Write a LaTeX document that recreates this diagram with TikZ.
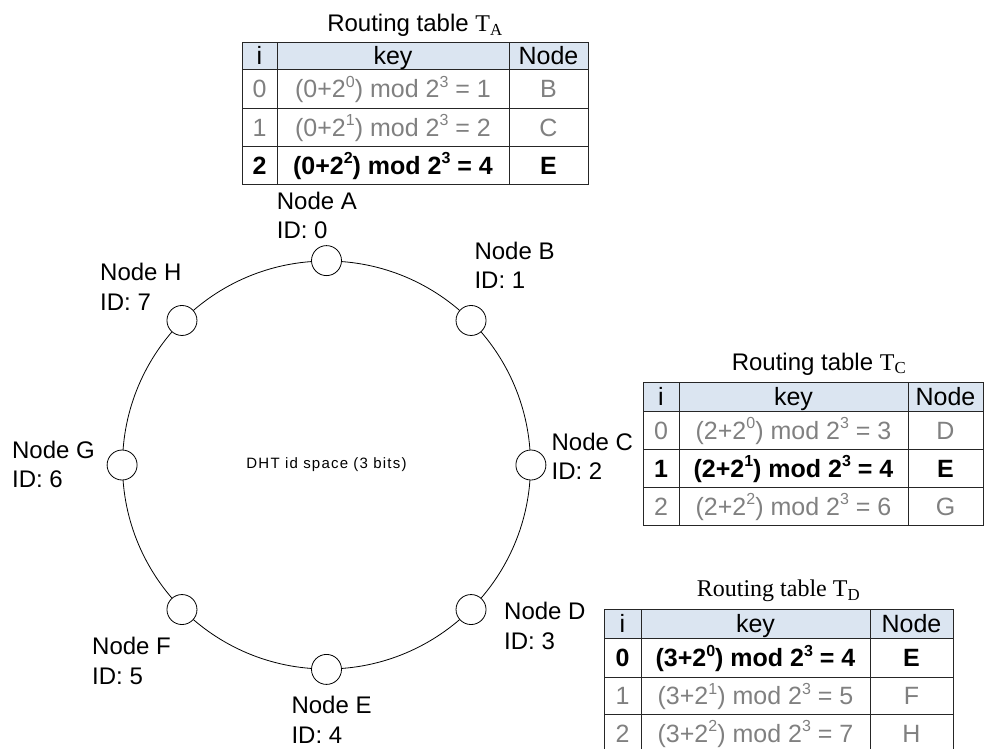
\documentclass[tikz,border=0pt]{standalone}
\usepackage{fontspec}
\setmainfont{Liberation Sans}
\newfontfamily\tnr{Liberation Serif}
\definecolor{hdr}{RGB}{219,229,241}
\definecolor{txtgray}{RGB}{128,128,128}
\tikzset{
  lbl/.style={anchor=base west, inner sep=0pt},
  cell/.style={anchor=base, inner sep=0pt, font=\fontsize{25}{30}\selectfont},
  gt/.style={cell, text=txtgray},
  bt/.style={cell, font=\fontsize{25}{30}\selectfont\bfseries},
  ttl/.style={anchor=base, inner sep=0pt},
  tline/.style={draw=black!85, line width=0.9pt},
  peer/.style={circle, draw, fill=white, minimum size=30pt, inner sep=0pt, line width=0.8pt},
}
\newcommand\lines[2]{\begin{tabular}[t]{@{}l@{}}#1\\#2\end{tabular}}
\newcommand\sups[1]{\raisebox{0.42em}{\fontsize{16}{16}\selectfont #1}}
\begin{document}
\begin{tikzpicture}[x=1pt, y=-1pt, font=\fontsize{24}{29.7}\selectfont]
\useasboundingbox (0,0) rectangle (984,748);
\clip (0,0) rectangle (984,748);

% ring
\node[circle, draw, line width=0.8pt, minimum size=408pt, inner sep=0pt] (ring) at (326.5,465) {};
\node[inner sep=0pt, font=\fontsize{15}{18}\selectfont\addfontfeature{LetterSpace=8}] (dht) at (ring.center) {DHT id space (3 bits)};
\node[peer] (A) at (ring.90) {};
\node[peer] (B) at (ring.45) {};
\node[peer] (C) at (ring.0) {};
\node[peer] (D) at (ring.-45) {};
\node[peer] (E) at (ring.-90) {};
\node[peer] (F) at (ring.-135) {};
\node[peer] (G) at (ring.180) {};
\node[peer] (H) at (ring.135) {};

% labels
\node[lbl] (lA) at (276.7,209) {\lines{Node A}{ID: 0}};
\node[lbl] (lB) at (474.3,259) {\lines{Node B}{ID: 1}};
\node[lbl] (lC) at (551.4,450) {\lines{Node C}{ID: 2}};
\node[lbl] (lD) at (504,619.5) {\lines{Node D}{ID: 3}};
\node[lbl] (lE) at (291.3,713.3) {\lines{Node E}{ID: 4}};
\node[lbl] (lF) at (92,654.6) {\lines{Node F}{ID: 5}};
\node[lbl] (lG) at (11.9,458) {\lines{Node G}{ID: 6}};
\node[lbl] (lH) at (100,280.4) {\lines{Node H}{ID: 7}};

% ---------- Table T_A ----------
\node[ttl] (tA) at (415,31.7) {Routing table {\tnr T\textsubscript{A}}};
\fill[hdr] (242,42) rectangle (588,69);
\draw[tline] (242,42) rectangle (588,184);
\draw[tline] (242,69) -- (588,69) (242,108) -- (588,108) (242,146) -- (588,146)
             (277,42) -- (277,184) (509,42) -- (509,184);
\node[cell] (a00) at (259.5,64.5) {i};
\node[cell] (a01) at (393,64.5) {key};
\node[cell] (a02) at (548.5,64.5) {Node};
\node[gt] (a10) at (259.5,97.5) {0};
\node[gt] (a11) at (393,97.5) {(0+2\sups{0}) mod 2\sups{3} = 1};
\node[gt] (a12) at (548.5,97.5) {B};
\node[gt] (a20) at (259.5,136) {1};
\node[gt] (a21) at (393,136) {(0+2\sups{1}) mod 2\sups{3} = 2};
\node[gt] (a22) at (548.5,136) {C};
\node[bt] (a30) at (259.5,174) {2};
\node[bt] (a31) at (393,174) {(0+2\sups{2}) mod 2\sups{3} = 4};
\node[bt] (a32) at (548.5,174) {E};

% ---------- Table T_C ----------
\node[ttl] (tC) at (819,370) {Routing table {\tnr T\textsubscript{C}}};
\fill[hdr] (643,382) rectangle (983,411);
\draw[tline] (643,382) rectangle (983,525);
\draw[tline] (643,411) -- (983,411) (643,449) -- (983,449) (643,487) -- (983,487)
             (679,382) -- (679,525) (908,382) -- (908,525);
\node[cell] (c00) at (661,405.5) {i};
\node[cell] (c01) at (793.5,405.5) {key};
\node[cell] (c02) at (945.5,405.5) {Node};
\node[gt] (c10) at (661,439) {0};
\node[gt] (c11) at (793.5,439) {(2+2\sups{0}) mod 2\sups{3} = 3};
\node[gt] (c12) at (945.5,439) {D};
\node[bt] (c20) at (661,477) {1};
\node[bt] (c21) at (793.5,477) {(2+2\sups{1}) mod 2\sups{3} = 4};
\node[bt] (c22) at (945.5,477) {E};
\node[gt] (c30) at (661,515) {2};
\node[gt] (c31) at (793.5,515) {(2+2\sups{2}) mod 2\sups{3} = 6};
\node[gt] (c32) at (945.5,515) {G};

% ---------- Table T_D ----------
\node[ttl] (tD) at (778.5,596.7) {\tnr Routing table T\textsubscript{D}};
\fill[hdr] (604,609) rectangle (953,638);
\draw[tline] (604,609) rectangle (953,752);
\draw[tline] (604,638) -- (953,638) (604,677) -- (953,677) (604,714) -- (953,714)
             (641,609) -- (641,752) (870,609) -- (870,752);
\node[cell] (d00) at (622.5,632.5) {i};
\node[cell] (d01) at (755.5,632.5) {key};
\node[cell] (d02) at (911.5,632.5) {Node};
\node[bt] (d10) at (622.5,666.5) {0};
\node[bt] (d11) at (755.5,666.5) {(3+2\sups{0}) mod 2\sups{3} = 4};
\node[bt] (d12) at (911.5,666.5) {E};
\node[gt] (d20) at (622.5,704.5) {1};
\node[gt] (d21) at (755.5,704.5) {(3+2\sups{1}) mod 2\sups{3} = 5};
\node[gt] (d22) at (911.5,704.5) {F};
\node[gt] (d30) at (622.5,742) {2};
\node[gt] (d31) at (755.5,742) {(3+2\sups{2}) mod 2\sups{3} = 7};
\node[gt] (d32) at (911.5,742) {H};
\end{tikzpicture}
\end{document}
